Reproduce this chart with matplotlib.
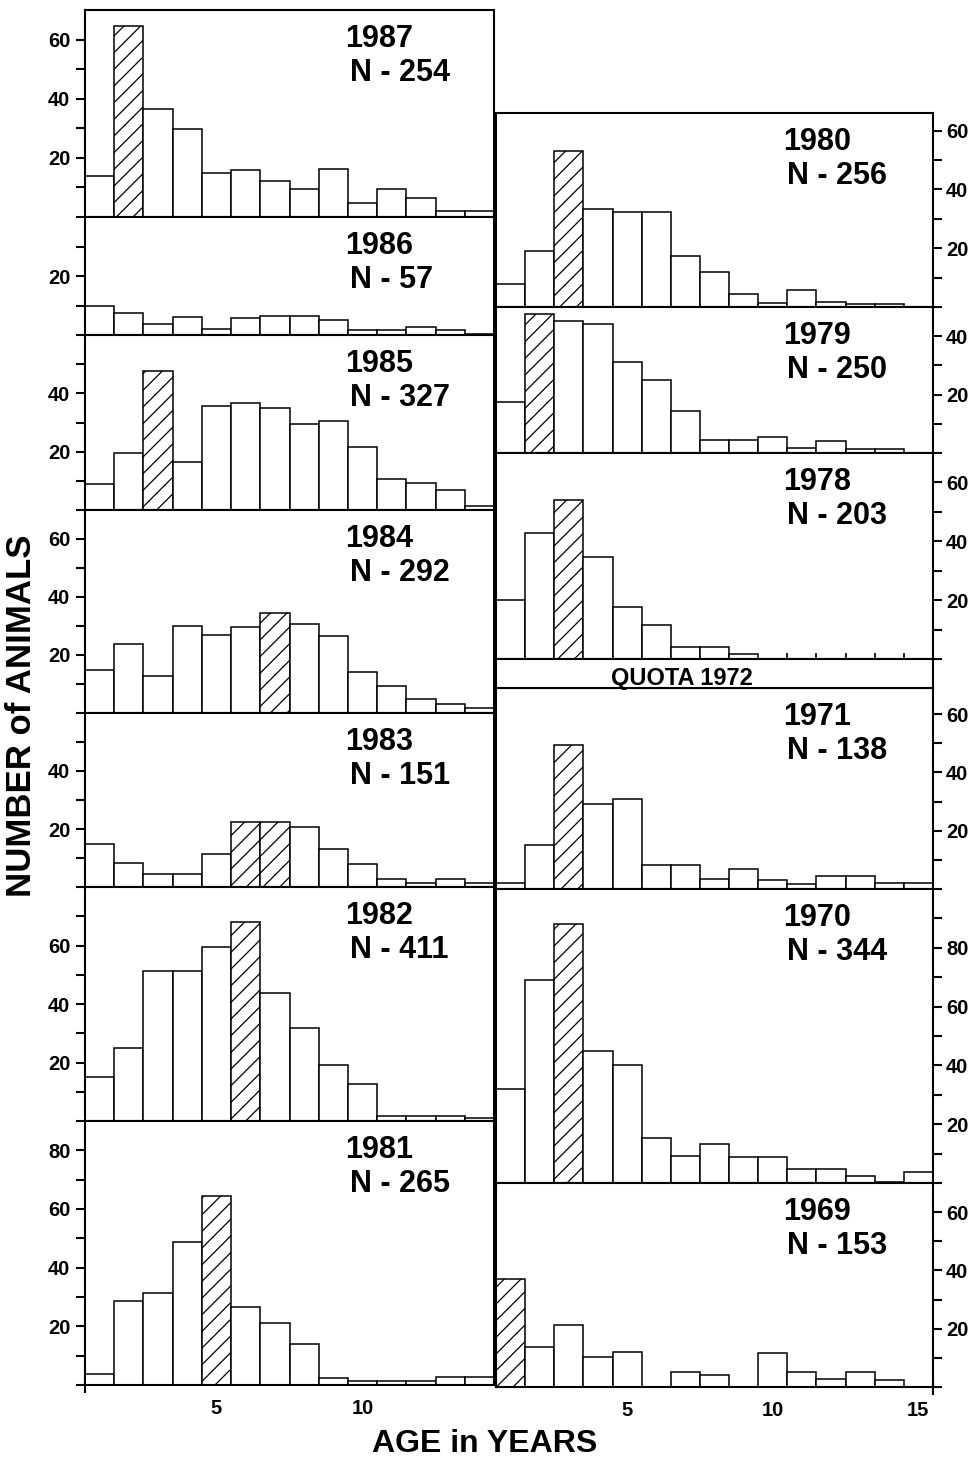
import matplotlib.pyplot as plt
import numpy as np

# Age composition of the catch, one histogram per year
# --------------
ages_left = np.arange(1, 15)
ages_right = np.arange(1, 16)

c1987 = [14, 64.5, 36.5, 29.7, 15, 16, 12.3, 9.6, 16.4, 4.8, 9.6, 6.5, 2, 2]
c1986 = [9.7, 7.6, 3.7, 6.1, 2, 5.6, 6.4, 6.4, 5, 1.6, 1.6, 2.7, 1.8, 0.4]
c1985 = [8.9, 19.7, 47.8, 16.3, 35.5, 36.6, 34.9, 29.4, 30.5, 21.6, 10.6, 9.4, 6.8, 1.5]
c1984 = [14.9, 23.8, 12.7, 30.1, 26.8, 29.7, 34.6, 30.7, 26.5, 14.1, 9.3, 4.8, 3, 1.8]
c1983 = [14.7, 8.3, 4.4, 4.4, 11.5, 22.3, 22.3, 20.6, 13.1, 8, 2.8, 1.5, 2.8, 1.3]
c1982 = [15.1, 24.8, 51.2, 51.2, 59.5, 67.9, 43.9, 31.9, 19.3, 12.6, 1.7, 1.7, 1.7, 0.9]
c1981 = [3.9, 28.8, 31.2, 48.6, 64.5, 26.5, 21.3, 14, 2.5, 1.5, 1.5, 1.5, 2.6, 2.6]

c1980 = [7.7, 19.2, 53.2, 33.4, 32.3, 32.3, 17.4, 11.8, 4.4, 1.3, 5.8, 1.6, 1.1, 1.1, 0]
c1979 = [17.5, 47.7, 45.1, 44.1, 31.1, 24.9, 14.4, 4.5, 4.5, 5.6, 1.6, 4, 1.3, 1.3, 0]
c1978 = [20.1, 42.8, 54, 34.7, 17.8, 11.4, 4, 4.2, 1.7, 0, 0, 0, 0, 0, 0]
c1971 = [1.9, 15.2, 49.5, 29.2, 30.8, 8.4, 8.4, 3.5, 6.8, 3, 1.7, 4.5, 4.5, 2.2, 2.2]
c1970 = [32, 68.9, 88.1, 44.8, 40.2, 15.2, 9.2, 13.2, 9, 9, 4.7, 4.7, 2.4, 0.3, 3.7]
c1969 = [37.1, 13.8, 21.4, 10.3, 12, 0, 5.2, 4.2, 0, 11.5, 5.2, 2.7, 5.2, 2.4, 0]

years_left = ['1987', '1986', '1985', '1984', '1983', '1982', '1981']
n_left = [254, 57, 327, 292, 151, 411, 265]
counts_left = [c1987, c1986, c1985, c1984, c1983, c1982, c1981]
hatched_left = [[2], [], [3], [7], [6, 7], [6], [5]]
ymax_left = [70, 40, 60, 70, 60, 80, 90]

years_right = ['1980', '1979', '1978', '1971', '1970', '1969']
n_right = [256, 250, 203, 138, 344, 153]
counts_right = [c1980, c1979, c1978, c1971, c1970, c1969]
hatched_right = [[3], [2], [3], [3], [3], [1]]
ymax_right = [66, 50, 70, 69, 100, 70]

# Layout (pixels)
# --------------
W, H = 976.0, 1459.0
left_x = (85, 494)
right_x = (496, 933)
left_rows = [(10, 217), (217, 335), (335, 510), (510, 713), (713, 887), (887, 1121), (1121, 1385)]
right_rows = [(113, 307), (307, 453), (453, 659), (688, 889), (889, 1183), (1183, 1387)]
quota_row = (659, 688)

plt.rcParams['font.family'] = ['Liberation Sans', 'DejaVu Sans']
plt.rcParams['hatch.linewidth'] = 0.9

fig = plt.figure(figsize=(W / 100, H / 100), dpi=100)


def add_axes(xs, row):
    return fig.add_axes([xs[0] / W, 1 - row[1] / H, (xs[1] - xs[0]) / W, (row[1] - row[0]) / H])


def draw_panel(ax, ages, counts, hatched, ymax, year, n, side):
    for a, c in zip(ages, counts):
        ax.bar(a, c, width=1.0, facecolor='white', edgecolor='black', linewidth=1.1,
               hatch='//' if a in hatched else None, zorder=2)
    ax.set_xlim(ages[0] - 0.5, ages[-1] + 0.5)
    ax.set_ylim(0, ymax)
    for s in ax.spines.values():
        s.set_linewidth(1.5)
    major = [v for v in [20, 40, 60, 80] if v < ymax - 1]
    minor = [v for v in [0, 10, 30, 50, 70, 90] if v < ymax - 1]
    ax.set_yticks(major)
    ax.set_yticks(minor, minor=True)
    if side == 'left':
        ax.yaxis.tick_left()
        pad = 4
    else:
        ax.yaxis.tick_right()
        pad = 3
    ax.tick_params(axis='y', which='both', direction='out', length=6.5, width=1.5, pad=pad)
    ax.set_yticklabels([str(v) for v in major], fontsize=14.5, fontweight='bold')
    ax.set_xticks([])
    fx = 0.636 if side == 'left' else 0.657
    nx = 0.648 if side == 'left' else 0.665
    ax.annotate(year, xy=(fx, 1), xycoords='axes fraction', xytext=(0, -37),
                textcoords='offset pixels', va='baseline', ha='left',
                fontsize=22, fontweight='bold')
    ax.annotate('N - %d' % n, xy=(nx, 1), xycoords='axes fraction', xytext=(0, -71),
                textcoords='offset pixels', va='baseline', ha='left',
                fontsize=22, fontweight='bold')


# Left column: 1987 -> 1981
axes_left = []
for i in range(len(years_left)):
    ax = add_axes(left_x, left_rows[i])
    draw_panel(ax, ages_left, counts_left[i], hatched_left[i], ymax_left[i],
               years_left[i], n_left[i], 'left')
    axes_left.append(ax)

# Right column: 1980 -> 1969
axes_right = []
for i in range(len(years_right)):
    ax = add_axes(right_x, right_rows[i])
    draw_panel(ax, ages_right, counts_right[i], hatched_right[i], ymax_right[i],
               years_right[i], n_right[i], 'right')
    axes_right.append(ax)

# small inward marks on the empty part of 1978
ax78 = axes_right[2]
ax78.set_xticks([10.5, 11.5, 12.5, 13.5, 14.5], minor=True)
ax78.tick_params(axis='x', which='minor', direction='in', length=4, width=1.2)

# QUOTA 1972 strip
axq = add_axes(right_x, quota_row)
axq.set_xticks([])
axq.set_yticks([])
for s in axq.spines.values():
    s.set_linewidth(1.5)
axq.text(0.426, 0.1, 'QUOTA 1972', transform=axq.transAxes, ha='center', va='baseline',
         fontsize=17, fontweight='bold')

# X ticks on the bottom panels
for ax, ticks in [(axes_left[-1], [5, 10]), (axes_right[-1], [5, 10, 15])]:
    ax.set_xticks(ticks)
    ax.set_xticklabels([str(t) for t in ticks], fontsize=14.5, fontweight='bold')
    ax.tick_params(axis='x', which='major', length=0, pad=10)
axes_left[-1].set_xticks([0.5], minor=True)
axes_right[-1].set_xticks([15.5], minor=True)
for ax in [axes_left[-1], axes_right[-1]]:
    ax.tick_params(axis='x', which='minor', direction='inout', length=12, width=1.5)

# Axis titles
fig.text(22 / W, 1 - 716 / H, 'NUMBER of ANIMALS', rotation=90, ha='center', va='center',
         fontsize=25, fontweight='bold')
fig.text(485 / W, 1 - 1452 / H, 'AGE in YEARS', ha='center', va='baseline',
         fontsize=23, fontweight='bold')

plt.savefig('out.png', dpi=100, facecolor='white')
